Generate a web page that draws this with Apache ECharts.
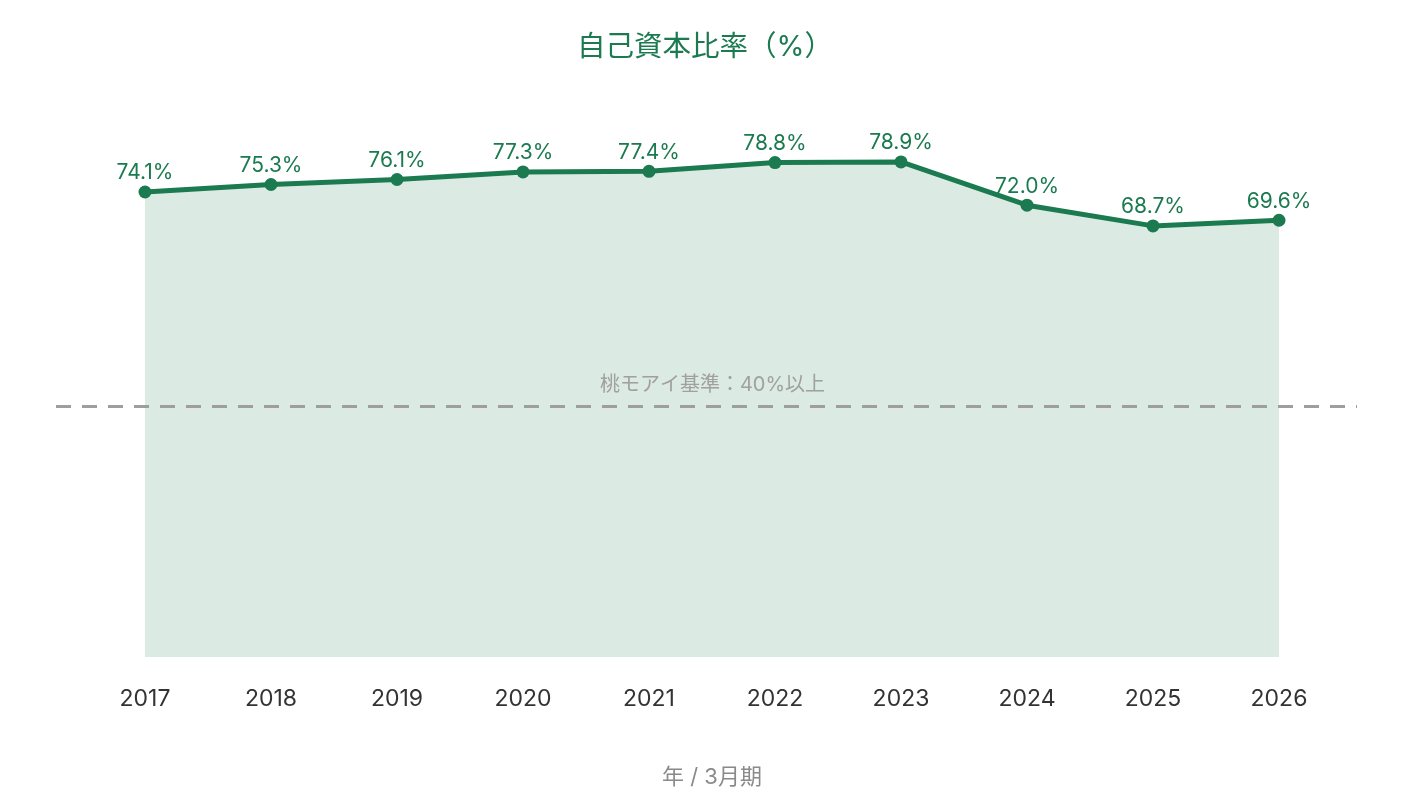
<!DOCTYPE html>
<html>
<head>
<meta charset="utf-8">
<title>自己資本比率</title>
<script src="https://cdn.jsdelivr.net/npm/echarts@6/dist/echarts.min.js"></script>
<style>
  html, body { margin: 0; padding: 0; background: #fff; }
  #chart { width: 1410px; height: 810px; }
</style>
</head>
<body>
<div id="chart"></div>
<script>
// データ
const years = ['2017', '2018', '2019', '2020', '2021', '2022', '2023', '2024', '2025', '2026']
const equityRatio = [74.1, 75.3, 76.1, 77.3, 77.4, 78.8, 78.9, 72.0, 68.7, 69.6]
const benchmarkValue = 40
const benchmarkLabel = '桃モアイ基準：40%以上'

const GREEN = '#1b7a4f'
const FONT = 'Inter, "Noto Sans CJK JP", sans-serif'

const chart = echarts.init(document.getElementById('chart'))

const option = {
  backgroundColor: '#fff',
  textStyle: { fontFamily: FONT },
  title: {
    text: '自己資本比率（%）',
    left: 'center',
    top: 28,
    textStyle: { color: GREEN, fontSize: 28.5, fontWeight: 'normal', fontFamily: FONT }
  },
  grid: [
    { left: 82, right: 68, top: 92.25, bottom: 153 },
    // 基準線用（横幅が広い）
    { left: 56, right: 53, top: 92.25, bottom: 153 }
  ],
  xAxis: [
    {
      type: 'category',
      gridIndex: 0,
      data: years,
      boundaryGap: true,
      axisLine: { show: false },
      axisTick: { show: false },
      axisLabel: { color: '#333', fontSize: 23, margin: 31, fontFamily: FONT },
      name: '年 / 3月期',
      nameLocation: 'middle',
      nameGap: 109,
      nameTextStyle: { color: '#8a8a8a', fontSize: 22, fontFamily: FONT }
    },
    { type: 'value', gridIndex: 1, min: 0, max: 1, show: false }
  ],
  yAxis: [
    { type: 'value', gridIndex: 0, min: 0, max: 90, show: false },
    { type: 'value', gridIndex: 1, min: 0, max: 90, show: false }
  ],
  series: [
    {
      name: '自己資本比率',
      type: 'line',
      xAxisIndex: 0,
      yAxisIndex: 0,
      data: equityRatio,
      symbol: 'circle',
      symbolSize: 13,
      z: 3,
      lineStyle: { color: GREEN, width: 5 },
      itemStyle: { color: GREEN },
      areaStyle: { color: '#dbeae2', opacity: 1 },
      label: {
        show: true,
        position: 'top',
        distance: 2,
        color: GREEN,
        fontSize: 21,
        fontFamily: FONT,
        formatter: p => p.value.toFixed(1) + '%'
      }
    },
    {
      name: '基準',
      type: 'line',
      xAxisIndex: 1,
      yAxisIndex: 1,
      data: [],
      silent: true,
      z: 4,
      markLine: {
        symbol: 'none',
        silent: true,
        lineStyle: { color: '#9e9e9e', type: [15, 11], width: 3 },
        label: {
          show: true,
          position: 'insideMiddleTop',
          formatter: benchmarkLabel,
          color: '#a0a0a0',
          fontSize: 20,
          fontFamily: FONT,
          distance: 11,
          offset: [6, 0]
        },
        data: [{ yAxis: benchmarkValue }]
      }
    }
  ]
}

chart.setOption(option)
</script>
</body>
</html>
